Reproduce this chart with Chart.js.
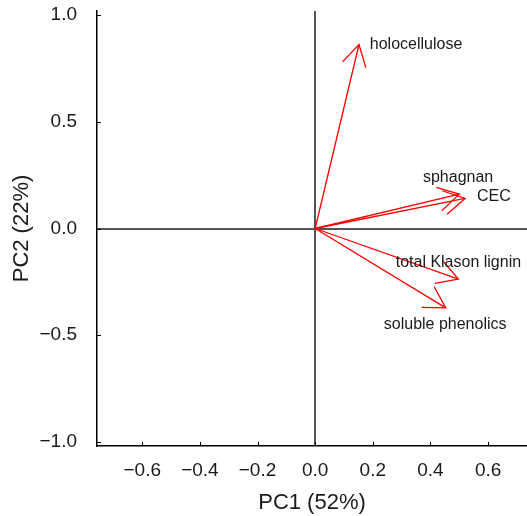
<!DOCTYPE html>
<html>
<head>
<meta charset="utf-8">
<script src="https://cdn.jsdelivr.net/npm/chart.js@4.4.1/dist/chart.umd.min.js"></script>
<style>
  html, body { margin: 0; padding: 0; background: #fff; }
  #wrap { width: 527px; height: 516px; }
</style>
</head>
<body>
<div id="wrap"><canvas id="graph"></canvas></div>
<script>
// loadings (arrow tips)
var varNames = ["holocellulose", "sphagnan", "CEC", "total Klason lignin", "soluble phenolics"];
var pc1 = [0.152, 0.500, 0.520, 0.497, 0.453];
var pc2 = [0.863, 0.161, 0.141, -0.237, -0.372];
// where each name is written
var labelX = [0.350, 0.496, 0.620, 0.497, 0.451];
var labelY = [0.863, 0.240, 0.151, -0.161, -0.450];

var xTicks = [-0.6, -0.4, -0.2, 0.0, 0.2, 0.4, 0.6];
var yTicks = [-1.0, -0.5, 0.0, 0.5, 1.0];

function fmt(v) {
    return (v < 0 ? "\u2212" : "") + Math.abs(v).toFixed(1);
}

var datasets = [];
for (var i = 0; i < varNames.length; i++) {
    datasets.push({
        label: varNames[i],
        data: [{ x: 0, y: 0 }, { x: pc1[i], y: pc2[i] }],
        showLine: true,
        borderColor: "#ff0000",
        borderWidth: 1.3,
        pointRadius: 0,
        backgroundColor: "transparent"
    });
}

// arrow heads, inward tick marks and the variable names
var biplotExtras = {
    id: "biplotExtras",
    afterDatasetsDraw: function(chart) {
        var ctx = chart.ctx;
        var xs = chart.scales.x, ys = chart.scales.y;
        var area = chart.chartArea;
        ctx.save();

        // arrow heads
        ctx.strokeStyle = "#ff0000";
        ctx.lineWidth = 1.3;
        for (var i = 0; i < varNames.length; i++) {
            var pts = chart.getDatasetMeta(i).data;
            var x0 = pts[0].x, y0 = pts[0].y, x1 = pts[1].x, y1 = pts[1].y;
            var ang = Math.atan2(y1 - y0, x1 - x0);
            var len = 24, spread = Math.PI / 6;
            ctx.beginPath();
            ctx.moveTo(x1 - len * Math.cos(ang - spread), y1 - len * Math.sin(ang - spread));
            ctx.lineTo(x1, y1);
            ctx.lineTo(x1 - len * Math.cos(ang + spread), y1 - len * Math.sin(ang + spread));
            ctx.stroke();
        }

        // ticks pointing inward
        ctx.strokeStyle = "#000";
        ctx.lineWidth = 1;
        xTicks.forEach(function(v) {
            var px = Math.round(xs.getPixelForValue(v)) + 0.5;
            ctx.beginPath();
            ctx.moveTo(px, area.bottom);
            ctx.lineTo(px, area.bottom - 4);
            ctx.stroke();
        });
        yTicks.forEach(function(v) {
            var py = Math.round(ys.getPixelForValue(v)) + 0.5;
            ctx.beginPath();
            ctx.moveTo(area.left, py);
            ctx.lineTo(area.left + 4, py);
            ctx.stroke();
        });

        // names
        ctx.fillStyle = "#1a1a1a";
        ctx.font = "16px 'Liberation Sans', Arial, sans-serif";
        ctx.textAlign = "center";
        ctx.textBaseline = "middle";
        for (var j = 0; j < varNames.length; j++) {
            ctx.fillText(varNames[j], xs.getPixelForValue(labelX[j]), ys.getPixelForValue(labelY[j]));
        }
        ctx.restore();
    }
};

var zeroGrid = function(c) {
    return c.tick && c.tick.value === 0 ? "#555555" : "transparent";
};

var chart = new Chart(document.getElementById("graph").getContext("2d"), {
    type: "scatter",
    data: { datasets: datasets },
    options: {
        responsive: true,
        maintainAspectRatio: false,
        animation: false,
        layout: { padding: { top: 11, right: 0, left: 0, bottom: 0 } },
        plugins: { legend: { display: false }, tooltip: { enabled: false } },
        scales: {
            x: {
                type: "linear",
                position: "bottom",
                min: -0.757,
                max: 0.735,
                afterBuildTicks: function(s) { s.ticks = xTicks.map(function(v) { return { value: v }; }); },
                afterFit: function(s) { s.height = 70; s.paddingLeft = 0; s.paddingRight = 0; },
                grid: { color: zeroGrid, lineWidth: 2, drawTicks: false },
                border: { display: true, color: "#000", width: 1.5 },
                ticks: {
                    callback: fmt,
                    color: "#1a1a1a",
                    padding: 13,
                    maxRotation: 0,
                    autoSkip: false,
                    font: { family: "'Liberation Sans', Arial, sans-serif", size: 19 }
                },
                title: {
                    display: true,
                    text: "PC1 (52%)",
                    color: "#1a1a1a",
                    padding: { top: 0, bottom: 0 },
                    font: { family: "'Liberation Sans', Arial, sans-serif", size: 22 }
                }
            },
            y: {
                type: "linear",
                position: "left",
                min: -1.02,
                max: 1.02,
                afterBuildTicks: function(s) { s.ticks = yTicks.map(function(v) { return { value: v }; }); },
                afterFit: function(s) { s.width = 97; s.paddingTop = 0; s.paddingBottom = 0; },
                grid: { color: zeroGrid, lineWidth: 2, drawTicks: false },
                border: { display: true, color: "#000", width: 1.5 },
                ticks: {
                    callback: fmt,
                    color: "#1a1a1a",
                    padding: 20,
                    autoSkip: false,
                    font: { family: "'Liberation Sans', Arial, sans-serif", size: 19 }
                },
                title: {
                    display: true,
                    text: "PC2 (22%)",
                    color: "#1a1a1a",
                    padding: { top: 9, bottom: 0 },
                    font: { family: "'Liberation Sans', Arial, sans-serif", size: 22 }
                }
            }
        }
    },
    plugins: [biplotExtras]
});
</script>
</body>
</html>
